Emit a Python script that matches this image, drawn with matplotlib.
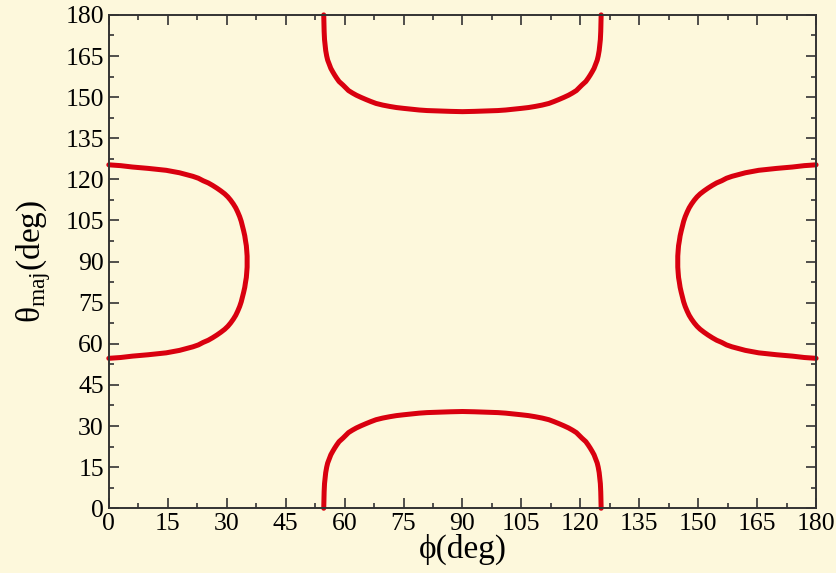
import matplotlib
matplotlib.use("Agg")
import matplotlib.pyplot as plt
from matplotlib.ticker import MultipleLocator

# curves (phi, theta_maj) in degrees
bottom_phi = [54.7, 54.75, 54.8, 54.9, 55.05, 55.2, 55.45, 55.7, 56.1, 56.5, 57.0, 57.5,
              58.0, 58.6, 59.6, 60.3, 61.0, 62.0, 63.0, 64.2, 65.5, 66.7, 68.0, 69.7,
              71.5, 73.2, 75.0, 77.0, 79.0, 81.0, 83.0, 85.0, 87.0, 90.0,
              93.0, 95.0, 97.0, 99.0, 101.0, 103.0, 105.0, 106.8, 108.5, 110.3, 112.0,
              113.3, 114.5, 115.8, 117.0, 118.0, 119.0, 119.7, 120.4, 121.4, 122.0,
              122.5, 123.0, 123.5, 123.9, 124.3, 124.55, 124.8, 124.95, 125.1, 125.2,
              125.25, 125.3]
bottom_theta = [0.0, 3.0, 6.0, 9.0, 11.0, 13.0, 15.0, 16.5, 18.0, 19.5, 20.8, 22.0,
                23.1, 24.3, 25.6, 26.6, 27.6, 28.5, 29.3, 30.1, 30.9, 31.6, 32.3, 32.9,
                33.4, 33.8, 34.1, 34.4, 34.7, 34.9, 35.0, 35.1, 35.2, 35.3,
                35.2, 35.1, 35.0, 34.9, 34.7, 34.4, 34.1, 33.8, 33.4, 32.9, 32.3,
                31.6, 30.9, 30.1, 29.3, 28.5, 27.6, 26.6, 25.6, 24.3, 23.1,
                22.0, 20.8, 19.5, 18.0, 16.5, 15.0, 13.0, 11.0, 9.0, 6.0,
                3.0, 0.0]

top_phi = bottom_phi
top_theta = [180.0, 177.0, 174.0, 171.0, 169.0, 167.0, 165.0, 163.5, 162.0, 160.5, 159.2,
             158.0, 156.9, 155.7, 154.4, 153.4, 152.4, 151.5, 150.7, 149.9, 149.1, 148.4,
             147.7, 147.1, 146.6, 146.2, 145.9, 145.6, 145.3, 145.1, 145.0, 144.9, 144.8,
             144.7,
             144.8, 144.9, 145.0, 145.1, 145.3, 145.6, 145.9, 146.2, 146.6, 147.1, 147.7,
             148.4, 149.1, 149.9, 150.7, 151.5, 152.4, 153.4, 154.4, 155.7, 156.9,
             158.0, 159.2, 160.5, 162.0, 163.5, 165.0, 167.0, 169.0, 171.0, 174.0,
             177.0, 180.0]

left_phi = [0.0, 3.0, 6.0, 10.0, 14.6, 18.0, 21.4, 22.8, 24.0, 25.3, 26.4, 27.5, 28.5,
            29.5, 30.3, 31.0, 31.7, 32.3, 32.8, 33.3, 33.7, 34.0, 34.3, 34.6, 34.8,
            35.0, 35.1, 35.2, 35.2,
            35.2, 35.1, 35.0, 34.8, 34.6, 34.3, 34.0, 33.7, 33.3, 32.8, 32.3, 31.7,
            31.0, 30.3, 29.5, 28.5, 27.5, 26.4, 25.3, 24.0, 22.8, 21.4, 18.0, 14.6,
            10.0, 6.0, 3.0, 0.0]
left_theta = [54.7, 55.0, 55.5, 56.0, 56.7, 57.6, 58.9, 59.6, 60.5, 61.3, 62.2, 63.2, 64.2,
              65.3, 66.4, 67.6, 69.0, 70.4, 71.9, 73.6, 75.3, 77.0, 78.7, 80.6, 82.5,
              84.2, 86.0, 88.0, 90.0,
              92.0, 94.0, 95.8, 97.5, 99.4, 101.3, 103.0, 104.7, 106.4, 108.1, 109.6, 111.0,
              112.4, 113.6, 114.7, 115.8, 116.8, 117.8, 118.7, 119.5, 120.4, 121.1, 122.4,
              123.3, 124.0, 124.5, 125.0, 125.3]

right_phi = [180.0, 177.0, 174.0, 170.0, 165.4, 162.0, 158.6, 157.2, 156.0, 154.7, 153.6,
             152.5, 151.5, 150.5, 149.7, 149.0, 148.3, 147.7, 147.2, 146.7, 146.3, 146.0,
             145.7, 145.4, 145.2, 145.0, 144.9, 144.8, 144.8,
             144.8, 144.9, 145.0, 145.2, 145.4, 145.7, 146.0, 146.3, 146.7, 147.2, 147.7,
             148.3, 149.0, 149.7, 150.5, 151.5, 152.5, 153.6, 154.7, 156.0, 157.2, 158.6,
             162.0, 165.4, 170.0, 174.0, 177.0, 180.0]
right_theta = left_theta

bg = "#fdf8dc"
red = "#d9000f"

plt.rcParams["font.family"] = ["Liberation Serif", "DejaVu Serif"]
plt.rcParams["mathtext.fontset"] = "custom"
plt.rcParams["mathtext.rm"] = "Liberation Serif"

fig = plt.figure(figsize=(8.37, 5.73), dpi=100, facecolor=bg)
ax = fig.add_axes([0.130, 0.113, 0.845, 0.861])
ax.set_facecolor(bg)

for px, py in [(bottom_phi, bottom_theta), (top_phi, top_theta),
               (left_phi, left_theta), (right_phi, right_theta)]:
    ax.plot(px, py, color=red, lw=3.6, solid_capstyle="round",
            solid_joinstyle="round", clip_on=False)

ax.set_xlim(0, 180)
ax.set_ylim(0, 180)
ax.xaxis.set_major_locator(MultipleLocator(15))
ax.yaxis.set_major_locator(MultipleLocator(15))
ax.xaxis.set_minor_locator(MultipleLocator(7.5))
ax.yaxis.set_minor_locator(MultipleLocator(7.5))
ax.tick_params(which="both", direction="in", top=True, right=True, colors="#333333",
               labelcolor="black", labelsize=18.5)
ax.tick_params(which="major", length=7, width=1.2)
ax.tick_params(which="minor", length=3.5, width=1.2)
for s in ax.spines.values():
    s.set_color("#333333")
    s.set_linewidth(1.4)

ax.set_xlabel("ϕ(deg)", fontsize=24, labelpad=-1)
ax.set_ylabel(r"θ$_{\mathrm{maj}}$(deg)", fontsize=24, labelpad=9)

fig.savefig("out.png", dpi=100, facecolor=bg)
